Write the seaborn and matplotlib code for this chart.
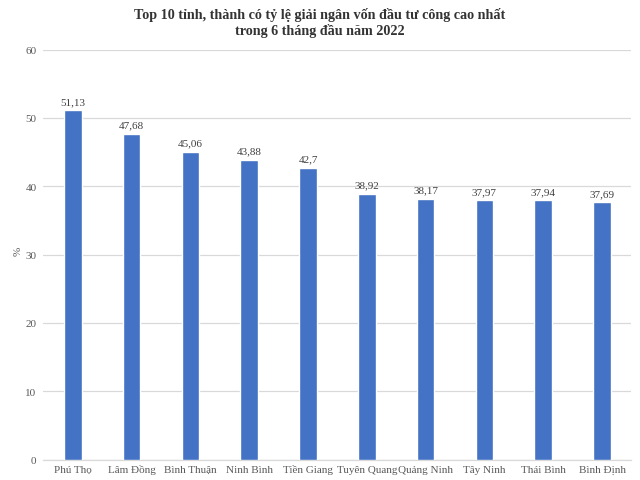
import matplotlib
matplotlib.use("Agg")
import matplotlib.pyplot as plt
import seaborn as sns
import pandas as pd

provinces = ["Phú Thọ", "Lâm Đồng", "Bình Thuận", "Ninh Bình", "Tiền Giang",
             "Tuyên Quang", "Quảng Ninh", "Tây Ninh", "Thái Bình", "Bình Định"]
values = [51.13, 47.68, 45.06, 43.88, 42.7, 38.92, 38.17, 37.97, 37.94, 37.69]
value_labels = ["51,13", "47,68", "45,06", "43,88", "42,7", "38,92", "38,17", "37,97", "37,94", "37,69"]
y_ticks = [0, 10, 20, 30, 40, 50, 60]

sns.set_theme(style="white")
plt.rcParams['font.family'] = ['Liberation Serif', 'DejaVu Serif']

df = pd.DataFrame({"province": provinces, "value": values})

fig = plt.figure(figsize=(6.4, 4.81), dpi=100)
ax = fig.add_axes([0.0677, 0.0426, 0.919, 0.852])
sns.barplot(data=df, x="province", y="value", color="#4472C4", width=0.3,
            saturation=1, ax=ax, zorder=3)

ax.set_ylim(0, 60)
ax.set_xlim(-0.5, 9.5)
ax.set_yticks(y_ticks)
ax.set_yticklabels([str(t) for t in y_ticks])
ax.set_xticks(range(len(provinces)))
ax.set_xticklabels(provinces, va="baseline")
ax.yaxis.grid(True, color="#d9d9d9", linewidth=0.9, zorder=0)
for s in ["top", "right", "left"]:
    ax.spines[s].set_visible(False)
ax.spines["bottom"].set_color("#d9d9d9")
ax.spines["bottom"].set_linewidth(0.9)
ax.tick_params(axis="both", length=0, labelsize=8, labelcolor="#595959")
ax.tick_params(axis="x", pad=9)
ax.tick_params(axis="y", pad=5)
ax.set_xlabel("")
ax.set_ylabel("%", fontsize=8, color="#595959")
ax.yaxis.set_label_coords(-0.036, 0.51)

for i, (v, lab) in enumerate(zip(values, value_labels)):
    ax.annotate(lab, (i, v), xytext=(0, 3), textcoords="offset points",
                ha="center", va="bottom", fontsize=8, color="#404040")

fig.text(0.5, 0.984, "Top 10 tỉnh, thành có tỷ lệ giải ngân vốn đầu tư công cao nhất\ntrong 6 tháng đầu năm 2022",
         ha="center", va="top", fontsize=10.2, fontweight="bold", color="#333333",
         linespacing=1.2)

fig.savefig("out.png", dpi=100)
